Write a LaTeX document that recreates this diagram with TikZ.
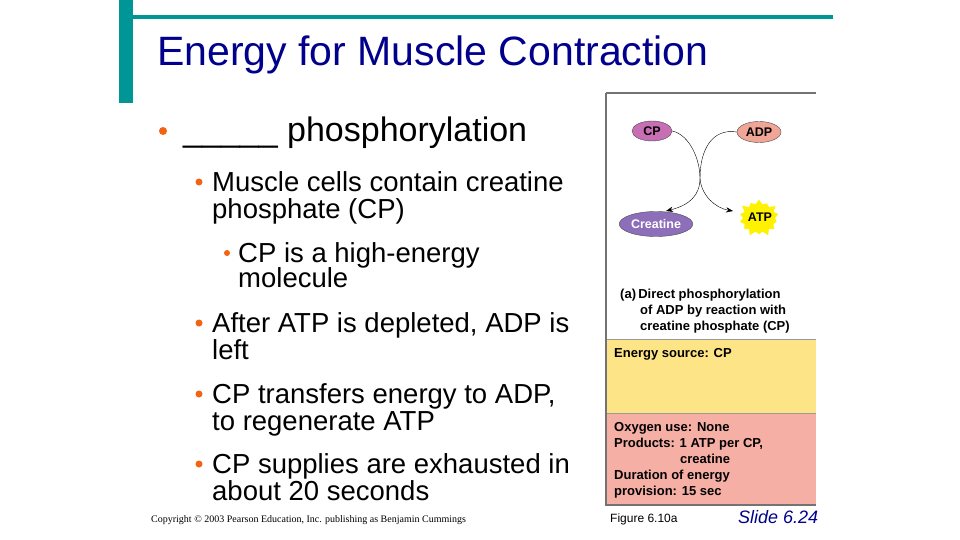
\documentclass[tikz,border=0pt]{standalone}
\usepackage{fontspec}
\setmainfont{Liberation Sans}
\newfontfamily\serifx{Liberation Serif}
\usetikzlibrary{shapes.geometric,shapes.misc,shapes.symbols,arrows.meta}
\definecolor{teal1}{RGB}{0,150,150}
\definecolor{navy}{RGB}{0,0,140}
\definecolor{orng}{RGB}{240,100,20}
\definecolor{yel}{RGB}{253,228,135}
\definecolor{pnk}{RGB}{245,175,165}
\definecolor{cpc}{RGB}{200,110,180}
\definecolor{adpc}{RGB}{240,165,150}
\definecolor{crc}{RGB}{140,110,185}
\tikzset{
 txt/.style={anchor=base west,inner sep=0pt},
 big/.style={txt,font=\fontsize{27.5}{30}\selectfont},
 bul/.style={circle,fill=orng,inner sep=0pt,minimum size=#1},
 ov/.style={ellipse,draw=black!70,thin,inner sep=1pt,font=\bfseries\fontsize{12.5}{14}\selectfont},
 pt/.style={txt,font=\bfseries\fontsize{13}{15}\selectfont},
 arr/.style={-{Stealth[length=7pt]},thin}
}
\begin{document}
\begin{tikzpicture}[x=1pt,y=-1pt]
\useasboundingbox (0,0) rectangle (960,540);
\fill[white] (0,0) rectangle (960,540);
\fill[teal1] (119,0) rectangle (133,103);
\fill[teal1] (133,15) rectangle (833,19);
\node[txt,text=navy,font=\fontsize{41}{44}\selectfont] (title) at (157,66) {Energy for Muscle Contraction};
% bullets
\node[bul=8pt] (b1) at (163,131) {};
\node[txt,font=\fontsize{34}{38}\selectfont] (t1) at (183,142) {\_\_\_\_\_ phosphorylation};
\node[bul=7pt] (b2) at (199,182) {};
\node[big] (t2a) at (212,191) {Muscle cells contain creatine};
\node[big] (t2b) at (212,218) {phosphate (CP)};
\node[bul=6pt] (b3) at (227,253) {};
\node[big] (t3a) at (238,262) {CP is a high-energy};
\node[big] (t3b) at (238,287) {molecule};
\node[bul=7pt] (b4) at (199,323) {};
\node[big] (t4a) at (212,332) {After ATP is depleted, ADP is};
\node[big] (t4b) at (212,359) {left};
\node[bul=7pt] (b5) at (199,394) {};
\node[big] (t5a) at (212,403) {CP transfers energy to ADP,};
\node[big] (t5b) at (212,430) {to regenerate ATP};
\node[bul=7pt] (b6) at (199,464) {};
\node[big] (t6a) at (212,473) {CP supplies are exhausted in};
\node[big] (t6b) at (212,500) {about 20 seconds};
\node[txt,font=\serifx\fontsize{10}{12}\selectfont] (copy) at (151,522) {Copyright \textcopyright{} 2003 Pearson Education, Inc. publishing as Benjamin Cummings};
% figure panel
\fill[yel] (607,339) rectangle (816,413);
\fill[pnk] (607,413) rectangle (816,505);
\draw[black!55,line width=1.2pt] (606,93) -- (816,93);
\draw[black!55,line width=1.5pt] (606,93) -- (606,505) -- (816,505);
\draw[black!40,thin] (607,339) -- (816,339);
\draw[black!40,thin] (607,413) -- (816,413);
\node[ov,fill=cpc,minimum width=40pt,minimum height=20pt] (cp) at (652,131) {CP};
\node[ov,fill=adpc,minimum width=44pt,minimum height=21pt] (adp) at (759,132) {ADP};
\node[ov,fill=crc,text=white,minimum width=68pt,minimum height=25pt] (cr) at (656,224) {Creatine};
\node[starburst,fill=yellow,starburst points=14,starburst point height=6pt,minimum width=44pt,minimum height=40pt,inner sep=0pt] (atp) at (759,218) {};
\node[font=\bfseries\fontsize{12.5}{14}\selectfont] (atpt) at (760,217) {ATP};
\coordinate (mid) at (700,178);
\draw[arr] (cp.east) .. controls (690,135) and (700,160) .. (mid) .. controls (701,195) and (715,208) .. (733,211);
\draw[arr] (adp.west) .. controls (712,128) and (700,150) .. (mid) .. controls (700,195) and (690,205) .. (666,211);
\node[pt] (cap) at (620,298) {(a)\,Direct phosphorylation};
\node[pt] (cap2) at (640,314) {of ADP by reaction with};
\node[pt] (cap3) at (640,330) {creatine phosphate (CP)};
\node[pt] (es) at (614,357) {Energy source: CP};
\node[pt] (ox1) at (614,431) {Oxygen use: None};
\node[pt] (ox2) at (614,447) {Products: 1 ATP per CP,};
\node[pt] (ox3) at (680,463) {creatine};
\node[pt] (ox4) at (614,479) {Duration of energy};
\node[pt] (ox5) at (614,495) {provision: 15 sec};
\node[txt,font=\fontsize{12}{14}\selectfont] (fig) at (610,522) {Figure 6.10a};
\node[txt,text=navy,font=\itshape\fontsize{18}{20}\selectfont] (sl) at (738,523) {Slide 6.24};
\end{tikzpicture}
\end{document}
